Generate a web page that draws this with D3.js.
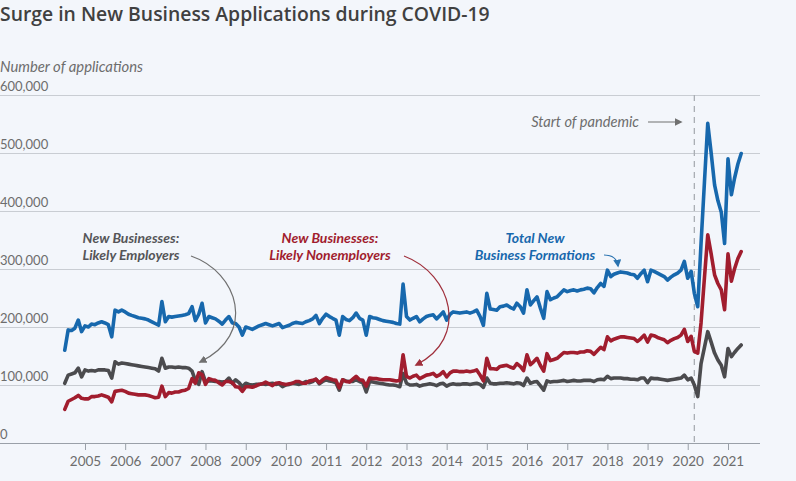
<!DOCTYPE html>
<html><head><meta charset="utf-8">
<script src="https://cdn.jsdelivr.net/npm/d3@7"></script>
<style>
html,body{margin:0;padding:0;background:#f3f6fb;}
svg{display:block;}
</style></head><body>
<svg id="chart" width="796" height="481"></svg>
<script>
// Monthly series, thousands of applications, starting July 2004
const startYear = 2004, startMonthIndex = 6; // July
const totalFormations = [
 160,195,194,198,212,192,
 202,200,205,204,207,209,207,204,183,229,226,229,
 226,222,220,218,216,215,214,212,209,206,203,244,
 209,218,217,218,219,220,221,223,235,211,222,241,
 207,218,216,214,210,205,212,218,207,206,200,186,
 200,198,196,199,202,204,206,204,202,204,206,199,
 201,203,206,208,207,206,209,211,214,220,206,215,
 222,218,215,212,186,218,213,211,216,224,215,212,
 186,218,216,215,213,211,210,209,208,206,205,274,
 218,212,215,218,209,214,218,220,221,214,220,226,
 212,222,226,225,224,225,226,224,226,229,218,203,
 258,231,230,229,235,236,238,234,231,241,235,224,
 264,238,245,252,233,215,261,247,250,252,258,264,
 261,263,264,262,264,265,267,266,259,268,275,270,
 298,287,291,293,295,294,293,291,290,284,292,298,
 278,298,296,293,290,287,281,286,290,293,298,313,
 284,296,258,235,344,450,551,500,445,418,398,344,
 490,428,456,481,499
];
const likelyEmployers = [
 103,117,119,121,129,114,
 126,124,125,124,126,126,126,125,112,140,136,138,
 137,136,135,134,133,132,131,130,129,128,124,146,
 129,131,131,130,131,130,130,129,124,108,101,123,
 106,107,107,106,106,105,106,112,103,109,104,97,
 103,101,100,101,101,102,101,102,103,101,102,97,
 100,101,103,102,101,103,106,104,106,110,102,106,
 109,107,106,104,91,109,107,106,106,109,106,104,
 88,106,105,104,103,102,101,100,100,99,97,120,
 103,100,100,101,98,100,101,102,101,99,102,103,
 98,101,102,101,101,102,102,101,102,103,101,96,
 112,103,102,102,103,103,104,103,102,104,103,99,
 112,103,105,106,99,91,107,105,106,106,107,108,
 106,107,108,107,107,108,108,108,106,109,110,109,
 115,111,112,112,112,111,111,110,110,109,112,112,
 104,112,111,111,110,109,108,109,110,111,112,117,
 109,112,100,80,137,165,192,174,155,143,134,114,
 163,149,156,163,169
];
const likelyNonemployers = [
 58,72,75,78,82,77,
 76,76,80,80,81,83,81,79,71,89,90,91,
 89,86,85,84,83,83,83,82,80,78,79,98,
 80,87,86,88,88,90,91,94,111,103,121,118,
 101,111,109,108,104,100,106,106,104,97,96,89,
 97,97,96,98,101,102,105,102,99,103,104,102,
 101,102,103,106,106,103,103,107,108,110,104,109,
 113,111,109,108,95,109,106,105,110,115,109,108,
 98,112,111,111,110,109,109,109,108,107,108,152,
 115,112,115,117,111,114,117,118,120,115,118,123,
 114,121,124,124,123,123,124,123,124,126,117,107,
 146,128,128,127,132,133,134,131,129,137,132,125,
 152,135,140,146,134,124,154,142,144,146,151,156,
 155,156,156,155,157,157,159,158,153,159,165,161,
 183,176,179,181,183,183,182,181,180,175,180,186,
 174,186,185,182,180,178,173,177,180,182,186,196,
 175,184,158,155,207,285,359,326,290,275,264,230,
 326,279,300,318,330
];
const yTickValues = [0,100,200,300,400,500,600];
const yTickLabels = ["0","100,000","200,000","300,000","400,000","500,000","600,000"];
const xTickYears = [2005,2006,2007,2008,2009,2010,2011,2012,2013,2014,2015,2016,2017,2018,2019,2020,2021];
const pandemicStart = {year:2020, month:2}; // March 2020

const colors = {blue:"#1768ad", red:"#a11d2e", gray:"#4b4b4e", grid:"#c9cdd3", text:"#6d6d6d", title:"#404040"};
const FONT = "Lato, 'Open Sans', sans-serif";

const svg = d3.select("#chart");
const W = 796, H = 481;
svg.append("rect").attr("width",W).attr("height",H).attr("fill","#f3f6fb");

const x = d3.scaleTime()
  .domain([new Date(2005,0,1), new Date(2021,0,1)])
  .range([85, 728]);
const y = d3.scaleLinear().domain([0,600]).range([443, 95]);

const dates = d3.range(totalFormations.length).map(i => new Date(startYear, startMonthIndex + i, 1));

function fit(sel, target){
  const w = sel.node().getComputedTextLength();
  const fs = parseFloat(sel.attr("font-size"));
  sel.attr("font-size", fs*target/w);
}
const title = svg.append("text").attr("x",0).attr("y",21)
  .attr("font-family","'Open Sans', sans-serif").attr("font-weight",600)
  .attr("font-size",19).attr("fill",colors.title)
  .text("Surge in New Business Applications during COVID-19");
fit(title, 490);

const yl = svg.append("text").attr("x",0).attr("y",72)
  .attr("font-family",FONT).attr("font-style","italic").attr("font-size",14.5)
  .attr("fill",colors.text).text("Number of applications");
fit(yl, 143);

// Y grid + labels
const yAxis = d3.axisRight(y).tickValues(yTickValues).tickSize(760)
  .tickFormat((d,i)=>yTickLabels[i]);
const gy = svg.append("g").call(yAxis);
gy.select(".domain").remove();
gy.selectAll(".tick line").attr("stroke", d => d===0 ? "#9aa0a8" : colors.grid).attr("stroke-width",1);
gy.selectAll(".tick text").attr("x",0).attr("dy",-5).attr("text-anchor","start")
  .attr("font-family",FONT).attr("font-size",13).attr("fill",colors.text)
  .attr("y",0);

// X axis
const xAxis = d3.axisBottom(x)
  .tickValues(xTickYears.map(yr => new Date(yr,0,1)))
  .tickFormat(d3.timeFormat("%Y")).tickSize(7).tickPadding(6);
const gx = svg.append("g").attr("transform",`translate(0,${y(0)})`).call(xAxis);
gx.select(".domain").remove();
gx.selectAll(".tick line").attr("stroke","#9aa0a8");
gx.selectAll(".tick text").attr("font-family",FONT).attr("font-size",13.5).attr("fill",colors.text);

// Pandemic dashed line
const px = x(new Date(pandemicStart.year, pandemicStart.month, 1));
svg.append("line").attr("x1",px).attr("x2",px).attr("y1",y(600)).attr("y2",y(0))
  .attr("stroke","#a9adb3").attr("stroke-width",1.3).attr("stroke-dasharray","6,5");

// Lines
const line = d3.line().x((d,i)=>x(dates[i])).y(d=>y(d)).curve(d3.curveLinear);
const series = [
  {vals: likelyEmployers, color: colors.gray},
  {vals: likelyNonemployers, color: colors.red},
  {vals: totalFormations, color: colors.blue}
];
series.forEach(s => {
  svg.append("path").datum(s.vals).attr("d", line)
    .attr("fill","none").attr("stroke", s.color).attr("stroke-width",3.6)
    .attr("stroke-linejoin","round").attr("stroke-linecap","round");
});

// Arrow markers
const defs = svg.append("defs");
function marker(id, color){
  defs.append("marker").attr("id",id).attr("viewBox","0 0 10 10").attr("refX",8).attr("refY",5)
    .attr("markerWidth",8).attr("markerHeight",8).attr("orient","auto-start-reverse")
    .attr("markerUnits","userSpaceOnUse")
    .append("path").attr("d","M0,0 L10,5 L0,10 z").attr("fill",color);
}
marker("ag","#707070"); marker("ar","#a0303c"); marker("ab","#2a73b0"); marker("ap","#707070");

// Annotations
function label(lines, cx, y0, color){
  lines.forEach((l,i)=> svg.append("text").attr("text-anchor","middle").attr("font-family",FONT)
    .attr("font-weight",700).attr("font-style","italic").attr("font-size",14).attr("fill",color)
    .attr("x",cx).attr("y",y0+i*17).text(l));
}
label(["New Businesses:","Likely Employers"], 131, 243, "#555558");
label(["New Businesses:","Likely Nonemployers"], 330, 243, "#a11d2e");
label(["Total New","Business Formations"], 535, 243, "#1768ad");

svg.append("path").attr("d","M191,256 C238,272 258,334 200,362").attr("fill","none")
  .attr("stroke","#707070").attr("stroke-width",1.2).attr("marker-end","url(#ag)");
svg.append("path").attr("d","M404,256 C452,274 470,338 416,365").attr("fill","none")
  .attr("stroke","#a0303c").attr("stroke-width",1.2).attr("marker-end","url(#ar)");
svg.append("path").attr("d","M604,255 C611,255 617,258 618,266").attr("fill","none")
  .attr("stroke","#2a73b0").attr("stroke-width",1.2).attr("marker-end","url(#ab)");

const sp = svg.append("text").attr("x",639).attr("y",127).attr("text-anchor","end")
  .attr("font-family",FONT).attr("font-style","italic").attr("font-size",15)
  .attr("fill","#6d6d6d").text("Start of pandemic");
fit(sp, 108);
svg.append("path").attr("d","M648,122 L681,122").attr("stroke","#707070").attr("stroke-width",1.2)
  .attr("marker-end","url(#ap)");
</script>
</body></html>
